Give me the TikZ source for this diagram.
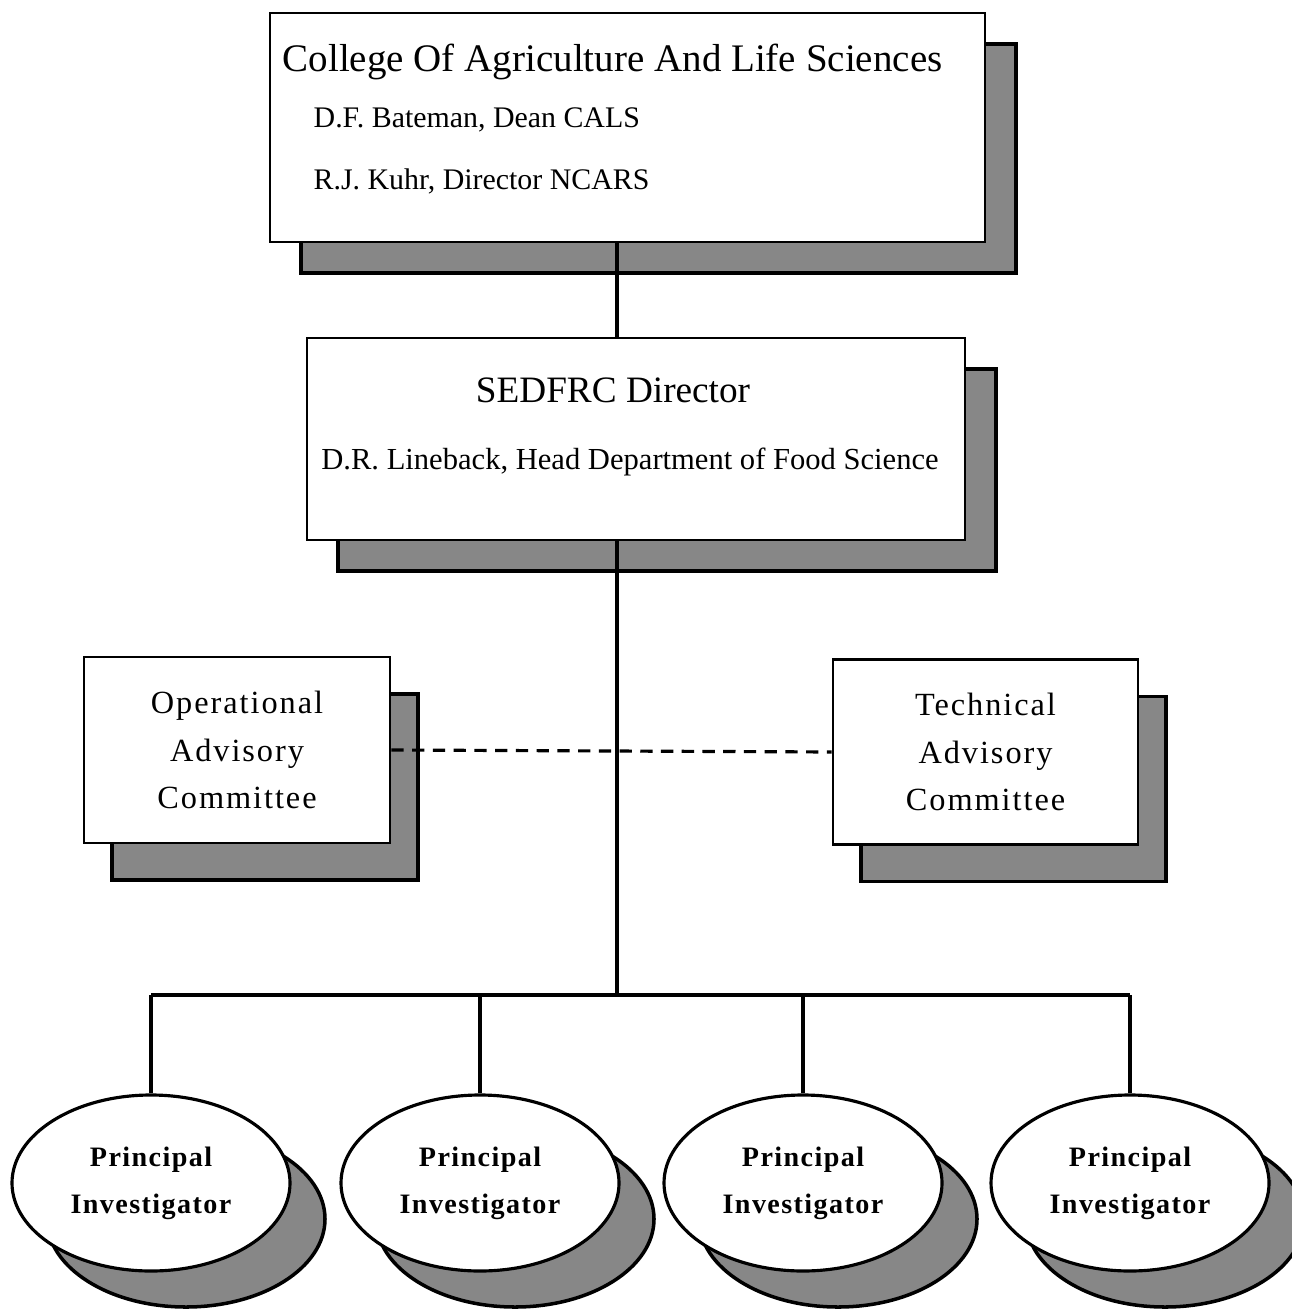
\documentclass[tikz,border=0pt]{standalone}
\usepackage{fontspec}
\setmainfont{Liberation Serif}
\newfontfamily\spacedfont[LetterSpace=6]{Liberation Serif}
\newfontfamily\boldspaced[LetterSpace=5]{Liberation Serif Bold}
\usetikzlibrary{shapes.geometric,shadows}

\begin{document}
\begin{tikzpicture}[
    frame/.style={draw, line width=0.8pt, fill=white, inner sep=0pt, align=center},
    box/.style={frame, drop shadow={shadow xshift=0.31cm, shadow yshift=-0.31cm, opacity=1, fill=black!47, draw=black, line width=1pt}},
    cbox/.style={frame, font=\spacedfont\fontsize{9.2}{13.4}\selectfont,
        drop shadow={shadow xshift=0.28cm, shadow yshift=-0.37cm, opacity=1, fill=black!47, draw=black, line width=1pt}},
    invest/.style={ellipse, draw, line width=0.9pt, fill=white, inner sep=0pt, align=center,
        minimum width=2.78cm, minimum height=1.76cm,
        font=\boldspaced\fontsize{8}{13.4}\selectfont,
        drop shadow={shadow xshift=0.35cm, shadow yshift=-0.36cm, opacity=1, fill=black!47, draw=black, line width=1pt}},
    hdr/.style={font=\fontsize{11.1}{13}\selectfont, anchor=base west, inner sep=0pt},
    sub/.style={font=\fontsize{8.5}{10}\selectfont, anchor=base west, inner sep=0pt},
    link/.style={line width=0.9pt},
]
\useasboundingbox (0,0) rectangle (12.91,-13.09);

% College box
\node[box, minimum width=7.15cm, minimum height=2.29cm] (cals) at (6.275,-1.275) {};
\node[hdr] (calstitle) at (2.82,-0.72) {College Of Agriculture And Life Sciences};
\node[sub] (dean) at (3.13,-1.28) {D.F. Bateman, Dean CALS};
\node[sub] (ncars) at (3.13,-1.90) {R.J. Kuhr, Director NCARS};

% Director box
\node[box, minimum width=6.58cm, minimum height=2.02cm] (director) at (6.36,-4.39) {};
\node[hdr, anchor=base, font=\fontsize{10.6}{13}\selectfont] (dirtitle) at (6.13,-4.03) {SEDFRC Director};
\node[sub, anchor=base, font=\fontsize{8.7}{10}\selectfont] (head) at (6.30,-4.70) {D.R. Lineback, Head Department of Food Science};

% Advisory committees
\node[cbox, minimum width=3.06cm, minimum height=1.86cm] (oac) at (2.37,-7.50) {Operational\\Advisory\\Committee};
\node[cbox, minimum width=3.05cm, minimum height=1.85cm] (tac) at (9.855,-7.52) {Technical\\Advisory\\Committee};

% Principal investigators
\node[invest] (pi1) at (1.51,-11.83) {Principal\\Investigator};
\node[invest] (pi2) at (4.80,-11.83) {Principal\\Investigator};
\node[invest] (pi3) at (8.03,-11.83) {Principal\\Investigator};
\node[invest] (pi4) at (11.30,-11.83) {Principal\\Investigator};

% Connectors
\coordinate (hub) at (6.17,-9.95);
\draw[link] (cals.south -| hub) -- (director.north -| hub);
\draw[link] (director.south -| hub) -- (hub);
\draw[link] (pi1.north |- hub) -- (pi4.north |- hub);
\foreach \i in {1,2,3,4} {
    \draw[link] (pi\i.north |- hub) -- (pi\i.north);
}
\draw[link, dash pattern=on 3.5pt off 2.4pt] (oac.east) -- (tac.west);

\end{tikzpicture}
\end{document}
